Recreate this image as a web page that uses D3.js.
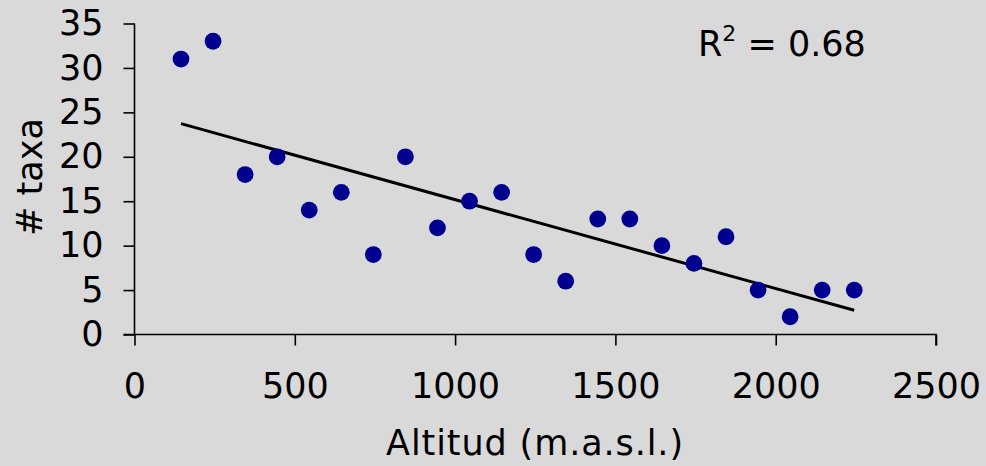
<!DOCTYPE html>
<html><head><meta charset="utf-8">
<script src="https://cdn.jsdelivr.net/npm/d3@7"></script>
<style>
html,body{margin:0;padding:0;background:#d9d9d9;}
svg{display:block;font-family:"DejaVu Sans",Verdana,sans-serif;}
</style></head>
<body><svg id="c" width="986" height="466"></svg>
<script>
const altitudes = [145,245,345,445,545,645,745,845,945,1045,1145,1245,1345,1445,1545,1645,1745,1845,1945,2045,2145,2245];
const taxa = [31,33,18,20,14,16,9,20,12,15,16,9,6,13,13,10,8,11,5,2,5,5];
const xTicks = [0,500,1000,1500,2000,2500];
const yTicks = [0,5,10,15,20,25,30,35];
const r2Label = "0.68";

const svg = d3.select("#c");
svg.append("rect").attr("width",986).attr("height",466).attr("fill","#d9d9d9");

const x = d3.scaleLinear().domain([0,2500]).range([134.5,936]);
const y = d3.scaleLinear().domain([0,35]).range([334.5,23.5]);
const fs = 35;

// axes
const xAxis = svg.append("g").attr("transform",`translate(0,${y(0)})`)
  .call(d3.axisBottom(x).tickValues(xTicks).tickSize(11).tickPadding(28).tickFormat(d3.format("d")));
const yAxis = svg.append("g").attr("transform",`translate(${x(0)},0)`)
  .call(d3.axisLeft(y).tickValues(yTicks).tickSize(11).tickPadding(20).tickFormat(d3.format("d")));
[xAxis,yAxis].forEach(g=>{
  g.select(".domain").attr("stroke","#000").attr("stroke-width",1.6);
  g.selectAll(".tick line").attr("stroke","#000").attr("stroke-width",1.6);
  g.selectAll(".tick text").attr("fill","#000").attr("font-size",fs).attr("font-family","DejaVu Sans, Verdana, sans-serif");
});
xAxis.select(".domain").attr("d",`M${x(0)-11},0H${x(2500)}V11`);
yAxis.select(".domain").attr("d",`M0,${y(35)}V${y(0)}`);

// regression line
const n = altitudes.length;
const mx = d3.mean(altitudes), my = d3.mean(taxa);
let sxy=0,sxx=0;
for(let i=0;i<n;i++){sxy+=(altitudes[i]-mx)*(taxa[i]-my);sxx+=(altitudes[i]-mx)**2;}
const slope = sxy/sxx, icpt = my-slope*mx;
const x0 = d3.min(altitudes), x1 = d3.max(altitudes);
svg.append("line")
  .attr("x1",x(x0)).attr("y1",y(icpt+slope*x0))
  .attr("x2",x(x1)).attr("y2",y(icpt+slope*x1))
  .attr("stroke","#000").attr("stroke-width",3);

// points
svg.append("g").selectAll("circle").data(altitudes).join("circle")
  .attr("cx",d=>x(d)).attr("cy",(d,i)=>y(taxa[i])).attr("r",8.4).attr("fill","#000090");

// labels
svg.append("text").attr("x",535).attr("y",455).attr("text-anchor","middle")
  .attr("font-size",fs).attr("letter-spacing",0.9).attr("fill","#000").text("Altitud (m.a.s.l.)");
svg.append("text").attr("transform","translate(42,177) rotate(-90)").attr("text-anchor","middle")
  .attr("font-size",fs).attr("fill","#000").text("# taxa");
const r2 = svg.append("text").attr("x",698).attr("y",56).attr("font-size",fs).attr("fill","#000");
r2.append("tspan").text("R");
r2.append("tspan").attr("dy",-15).attr("font-size",22).text("2");
r2.append("tspan").attr("dy",15).text(" = " + r2Label);
</script></body></html>
